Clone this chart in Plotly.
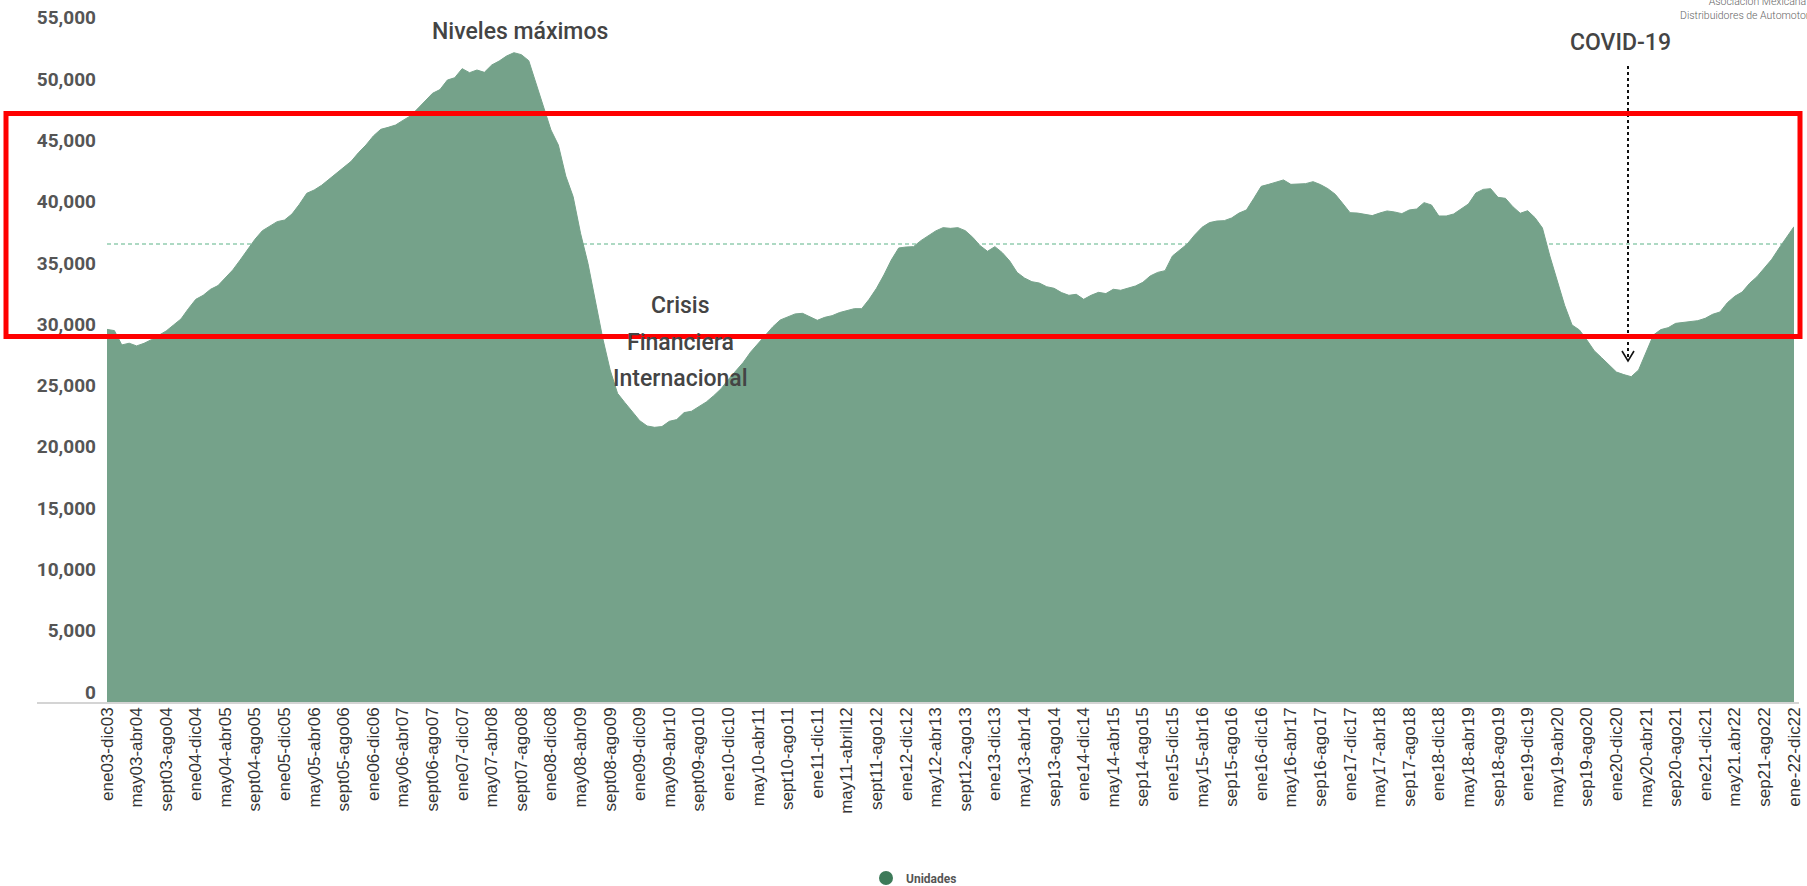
import plotly.graph_objects as go

# ---------------- data ----------------
MESES = ["ene", "feb", "mar", "abr", "may", "jun", "jul", "ago", "sep", "oct", "nov", "dic"]
# rolling 12-month windows: ene03-dic03 ... ene22-dic22 (229 periods)
PERIODS = []
for i in range(229):
    s = i % 12
    y1 = 3 + i // 12
    e = (s + 11) % 12
    y2 = y1 + (1 if s > 0 else 0)
    PERIODS.append(f"{MESES[s]}{y1:02d}-{MESES[e]}{y2:02d}")

TICK_LABELS = [
    "ene03-dic03", "may03-abr04", "sept03-ago04", "ene04-dic04", "may04-abr05", "sept04-ago05",
    "ene05-dic05", "may05-abr06", "sept05-ago06", "ene06-dic06", "may06-abr07", "sept06-ago07",
    "ene07-dic07", "may07-abr08", "sept07-ago08", "ene08-dic08", "may08-abr09", "sept08-ago09",
    "ene09-dic09", "may09-abr10", "sept09-ago10", "ene10-dic10", "may10-abr11", "sept10-ago11",
    "ene11-dic11", "may11-abril12", "sept11-ago12", "ene12-dic12", "may12-abr13", "sept12-ago13",
    "ene13-dic13", "may13-abr14", "sep13-ago14", "ene14-dic14", "may14-abr15", "sep14-ago15",
    "ene15-dic15", "may15-abr16", "sep15-ago16", "ene16-dic16", "may16-abr17", "sep16-ago17",
    "ene17-dic17", "may17-abr18", "sep17-ago18", "ene18-dic18", "may18-abr19", "sep18-ago19",
    "ene19-dic19", "may19-abr20", "sep19-ago20", "ene20-dic20", "may20-abr21", "sep20-ago21",
    "ene21-dic21", "may21.abr22", "sep21-ago22", "ene-22-dic22",
]

UNIDADES = [
    30480, 30380, 29210, 29350, 29130, 29340, 29640, 29970, 30350, 30840,
    31330, 32170, 32930, 33260, 33750, 34050, 34650, 35330, 36140, 36960,
    37830, 38530, 38910, 39270, 39400, 39890, 40680, 41580, 41850, 42230,
    42720, 43210, 43650, 44190, 44900, 45520, 46260, 46800, 46960, 47150,
    47530, 47890, 48490, 49110, 49740, 50040, 50820, 51010, 51750, 51420,
    51640, 51450, 52050, 52370, 52780, 53050, 52890, 52400, 50500, 48650,
    46750, 45520, 42990, 41310, 38320, 35870, 32660, 29750, 27170, 25260,
    24500, 23770, 23030, 22600, 22490, 22550, 22980, 23120, 23690, 23800,
    24180, 24560, 25070, 25640, 26410, 27090, 27790, 28640, 29340, 30050,
    30700, 31250, 31490, 31740, 31790, 31520, 31220, 31460, 31600, 31850,
    31980, 32170, 32170, 32930, 33830, 34920, 36140, 37120, 37200, 37230,
    37720, 38130, 38510, 38780, 38720, 38780, 38530, 37990, 37310, 36850,
    37230, 36740, 36060, 35130, 34670, 34370, 34260, 33960, 33830, 33480,
    33260, 33340, 32930, 33260, 33500, 33400, 33750, 33670, 33860, 34020,
    34320, 34840, 35130, 35270, 36470, 36960, 37450, 38180, 38810, 39190,
    39320, 39350, 39570, 39970, 40220, 41170, 42150, 42310, 42480, 42670,
    42310, 42310, 42370, 42530, 42290, 41960, 41500, 40760, 40000, 39970,
    39870, 39760, 39970, 40140, 40060, 39920, 40220, 40300, 40820, 40630,
    39730, 39730, 39890, 40270, 40710, 41600, 41900, 41960, 41250, 41170,
    40490, 39950, 40160, 39590, 38750, 36470, 34460, 32440, 30840, 30430,
    29620, 28740, 28170, 27600, 27000, 26790, 26620, 27170, 28660, 30020,
    30460, 30620, 30970, 31050, 31080, 31190, 31380, 31710, 31900, 32660,
    33180, 33530, 34240, 34780, 35490, 36200, 37120, 38040, 38860,
]
PROMEDIO = 37450
Y_TICKS = list(range(0, 55001, 5000))
SERIE = "Unidades"

# ---------------- geometry / style ----------------
W, H = 1807, 886
ML, MR, MT, MB = 107, 13, 17, 183
PLOT_W = W - ML - MR
PLOT_H = H - MT - MB
PX_PER_UNIT = 0.012258
Y_MAX = PLOT_H / PX_PER_UNIT


def px_x(X):
    return (X - ML) / PLOT_W


def px_y(Y):
    return (H - MB - Y) / PLOT_H


AREA = "#75a28a"
LEG = "#3d7a59"
TXT = "#444444"

fig = go.Figure()
fig.add_trace(go.Scatter(
    x=PERIODS, y=UNIDADES, mode="lines", fill="tozeroy",
    fillcolor=AREA, line=dict(color=AREA, width=1), name=SERIE, showlegend=False,
))
fig.add_trace(go.Scatter(
    x=[None], y=[None], mode="markers", name=SERIE,
    marker=dict(color=LEG, size=14, symbol="circle"), showlegend=True,
))

shapes = [
    dict(type="line", xref="x", yref="y", x0=PERIODS[0], x1=PERIODS[-1], y0=PROMEDIO, y1=PROMEDIO,
         line=dict(color="#93cdb0", width=1.5, dash="4px,3px"), layer="below"),
    dict(type="line", xref="paper", yref="paper", x0=px_x(37), x1=px_x(1799), y0=0, y1=0,
         line=dict(color="#d4d4d4", width=2), layer="above"),
    dict(type="line", xref="paper", yref="paper", x0=px_x(1628), x1=px_x(1628), y0=px_y(66), y1=px_y(358),
         line=dict(color="#111111", width=2, dash="dot"), layer="above"),
    dict(type="path", xref="paper", yref="paper",
         path=f"M {px_x(1622)} {px_y(351)} L {px_x(1628)} {px_y(361)} L {px_x(1634)} {px_y(351)}",
         line=dict(color="#111111", width=1.6), layer="above"),
    dict(type="rect", xref="paper", yref="paper", x0=px_x(6), x1=px_x(1800), y0=px_y(336.5), y1=px_y(113.5),
         line=dict(color="#ff0000", width=5), fillcolor="rgba(0,0,0,0)", layer="above"),
]

ann_font = dict(family="Roboto", size=23, color=TXT, weight=500)
annotations = [
    dict(text="Niveles máximos", x=px_x(520), y=px_y(32)),
    dict(text="Crisis", x=px_x(680), y=px_y(305)),
    dict(text="Financiera", x=px_x(680), y=px_y(342)),
    dict(text="Internacional", x=px_x(680), y=px_y(378)),
    dict(text="COVID-19", x=px_x(1620), y=px_y(42)),
]
for a in annotations:
    a.update(xref="paper", yref="paper", showarrow=False, font=ann_font, xanchor="center", yanchor="middle")
annotations.append(dict(
    text="Asociación Mexicana de<br>Distribuidores de Automotores", xref="paper", yref="paper",
    x=px_x(1823), y=px_y(-7), xanchor="right", yanchor="top", align="right", showarrow=False,
    font=dict(family="Roboto", size=10.5, color="#666666", weight=300),
))

fig.update_layout(
    width=W, height=H,
    margin=dict(l=ML, r=MR, t=MT, b=MB, autoexpand=False),
    paper_bgcolor="white", plot_bgcolor="white",
    shapes=shapes, annotations=annotations,
    showlegend=True,
    legend=dict(orientation="h", xref="container", yref="container",
                x=866 / W, xanchor="left", y=1 - 878 / H, yanchor="middle",
                font=dict(family="Roboto", size=12, color="#555555", weight=700),
                bgcolor="rgba(0,0,0,0)"),
    xaxis=dict(type="category", range=[0, len(PERIODS) - 1], showgrid=False, showline=False,
               zeroline=False, ticks="", tickmode="array", tickvals=PERIODS[::4], ticktext=TICK_LABELS,
               tickangle=-90, automargin=False,
               tickfont=dict(family="Liberation Sans, Arial", size=17, color="#333333")),
    yaxis=dict(range=[0, Y_MAX], showgrid=False, showline=False, zeroline=False, ticks="",
               tickmode="array", tickvals=Y_TICKS, tickformat=",d", ticklabelstandoff=10,
               ticklabelshift=-11, automargin=False,
               tickfont=dict(family="Roboto", size=19, color="#555555", weight=700)),
)

fig.write_html("out.html", config={"displayModeBar": False},
               post_script="document.body.style.margin='0';document.body.style.overflow='hidden';")
